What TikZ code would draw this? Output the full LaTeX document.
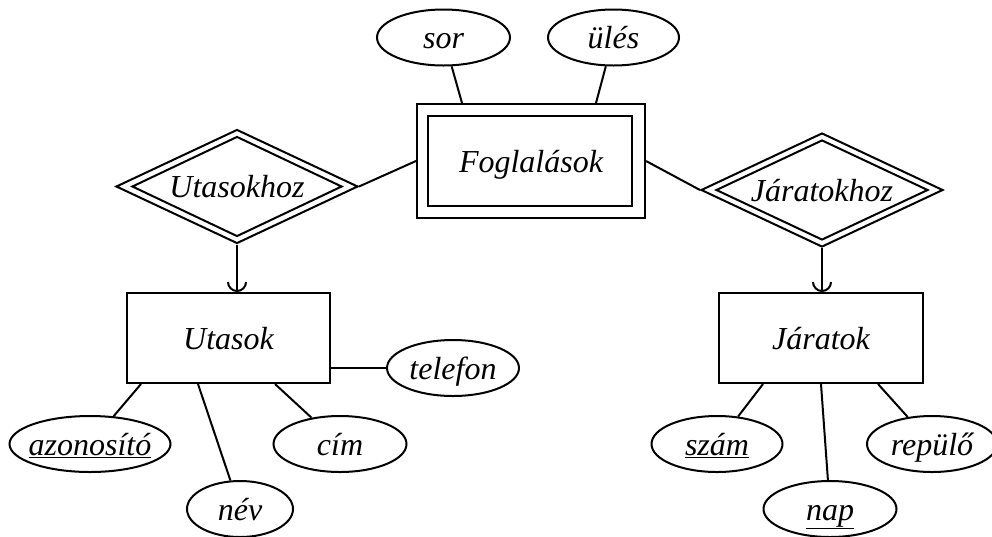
\documentclass[tikz,border=0pt]{standalone}
\usepackage{fontspec}
\setmainfont{Liberation Serif}
\usetikzlibrary{shapes.geometric,arrows.meta,calc}
\begin{document}
\begin{tikzpicture}[x=1pt,y=-1pt,line width=2pt,
  every node/.style={font=\fontsize{32}{36}\selectfont\itshape, inner sep=0pt,
    text height=26pt, text depth=4pt},
  attr/.style={ellipse, draw, minimum width=#1, minimum height=56pt},
  ent/.style={rectangle, draw, minimum width=#1, minimum height=90pt},
  rel/.style={diamond, draw, minimum width=#1, minimum height=114pt},
  reli/.style={diamond, draw, minimum width=#1, minimum height=100pt},
  isa/.style={-{Arc Barb[length=10pt,width=20pt]}}
]
\useasboundingbox (0,0) rectangle (992,536);

% weak entity
\node[ent=228pt, minimum height=114pt] (fog) at (531,161) {\makebox[0pt]{Foglalások}};
\node[ent=204pt, minimum height=90pt] (fogin) at (530,161) {};

% relationships
\node[rel=242pt] (uh) at (237,186.5) {\makebox[0pt]{Utasokhoz}};
\node[reli=210pt] (uhin) at (237,186.5) {};
\node[rel=242pt] (jh) at (822,190) {\makebox[0pt]{Járatokhoz}};
\node[reli=212pt] (jhin) at (822,190) {};

% entities
\node[ent=203pt] (ut) at (228.5,338) {\makebox[0pt]{Utasok}};
\node[ent=204pt] (ja) at (821,338) {\makebox[0pt]{Járatok}};

% attributes
\node[attr=133pt] (sor) at (443.5,37.5) {\makebox[0pt]{sor}};
\node[attr=131pt] (ules) at (613.5,37.5) {\makebox[0pt]{ülés}};
\node[attr=161pt] (azon) at (90,444) {\makebox[0pt]{\underline{azonosító}}};
\node[attr=106pt] (nev) at (240,509) {\makebox[0pt]{név}};
\node[attr=133pt] (cim) at (340,444) {\makebox[0pt]{cím}};
\node[attr=132pt] (tel) at (453,368) {\makebox[0pt]{telefon}};
\node[attr=131pt] (szam) at (717,444) {\makebox[0pt]{\underline{szám}}};
\node[attr=133pt] (nap) at (830,509) {\makebox[0pt]{\underline{nap}}};
\node[attr=130pt] (rep) at (932,444) {\makebox[0pt]{repülő}};

% connectors
\draw (sor) -- ([xshift=46pt]fog.north west);
\draw (ules) -- ([xshift=-50pt]fog.north east);
\draw (uh.east) -- (fog.west);
\draw (fog.east) -- (jh.west);
\draw[isa] (uh.south) -- (uh.south |- ut.north);
\draw[isa] (jh.south) -- (jh.south |- ja.north);
\draw (azon) -- ([xshift=15pt]ut.south west);
\draw (nev) -- ([xshift=72pt]ut.south west);
\draw (cim) -- ([xshift=-56pt]ut.south east);
\draw (tel.west) -- (tel.west -| ut.east);
\draw (szam) -- ([xshift=45pt]ja.south west);
\draw (nap) -- ([xshift=103pt]ja.south west);
\draw (rep) -- ([xshift=-46pt]ja.south east);
\end{tikzpicture}
\end{document}
